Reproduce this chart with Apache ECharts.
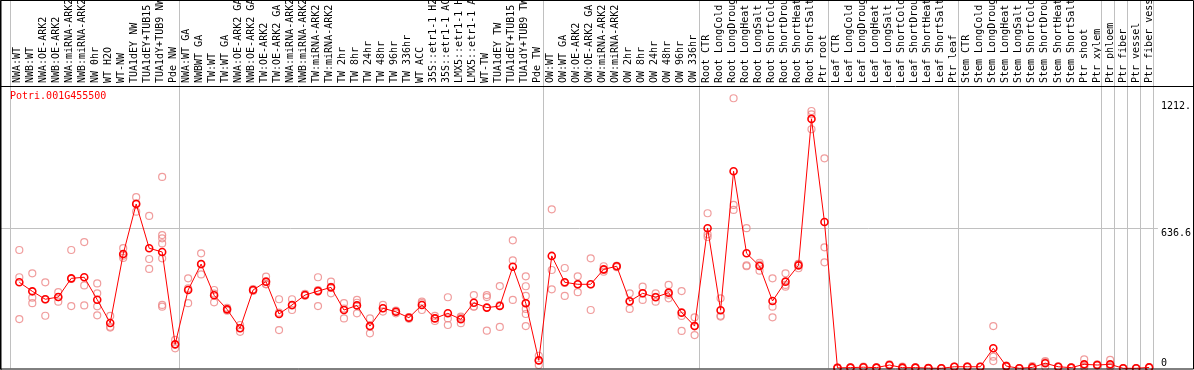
<!DOCTYPE html>
<html>
<head>
<meta charset="utf-8">
<script src="https://cdn.jsdelivr.net/npm/echarts@6/dist/echarts.min.js"></script>
<style>
html,body{margin:0;padding:0;background:#fff;}
#chart{width:1194px;height:370px;}
</style>
</head>
<body>
<div id="chart"></div>
<script>
const geneTitle = 'Potri.001G455500';

const categories = [
  'NWA:WT','NWB:WT','NWA:OE-ARK2','NWB:OE-ARK2','NWA:miRNA-ARK2','NWB:miRNA-ARK2','NW 0hr','WT H2O','WT-NW','TUA1dEY NW','TUA1dEY+TUB15','TUA1dY+TUB9 NW','Pde NW',
  'NWA:WT GA','NWBWT GA','TW:WT','TW:WT GA','NWA:OE-ARK2 GA','NWB:OE-ARK2 GA','TW:OE-ARK2','TW:OE-ARK2 GA','NWA:miRNA-ARK2','NWB:miRNA-ARK2','TW:miRNA-ARK2','TW:miRNA-ARK2',
  'TW 2hr','TW 8hr','TW 24hr','TW 48hr','TW 96hr','TW 336hr','WT ACC','35S::etr1-1 H2O','35S::etr1-1 ACC','LMX5::etr1-1 H2O','LMX5::etr1-1 ACC','WT-TW','TUA1dEY TW','TUA1dEY+TUB15','TUA1dY+TUB9 TW','Pde TW',
  'OW:WT','OW:WT GA','OW:OE-ARK2','OW:OE-ARK2 GA','OW:miRNA-ARK2','OW:miRNA-ARK2','OW 2hr','OW 8hr','OW 24hr','OW 48hr','OW 96hr','OW 336hr',
  'Root CTR','Root LongCold','Root LongDrought','Root LongHeat','Root LongSalt','Root ShortCold','Root ShortDrought','Root ShortHeat','Root ShortSalt','Ptr root',
  'Leaf CTR','Leaf LongCold','Leaf LongDrought','Leaf LongHeat','Leaf LongSalt','Leaf ShortCold','Leaf ShortDrought','Leaf ShortHeat','Leaf ShortSalt','Ptr leaf',
  'Stem CTR','Stem LongCold','Stem LongDrought','Stem LongHeat','Stem LongSalt','Stem ShortCold','Stem ShortDrought','Stem ShortHeat','Stem ShortSalt','Ptr shoot','Ptr xylem',
  'Ptr phloem','Ptr fiber','Ptr vessel','Ptr fiber vessel'
];

const meanValues = [
  391,350,314,324,409,414,312,206,520,747,546,529,109,
  356,474,332,268,182,356,394,247,288,333,351,368,
  265,286,192,273,257,230,288,227,250,223,298,276,283,462,296,36,
  511,391,382,382,450,464,305,341,323,344,253,192,
  637,264,896,523,465,306,394,468,1134,665,
  2,3,5,3,15,3,3,1,0,7,
  7,7,91,10,0,4,23,7,3,18,15,
  18,0,0,4
];

const replicateValues = [
  [538,414,224],[432,321,296],[391,313,239],[346,324,303],[538,406,283],[574,377,286],[386,341,282,241],[238,189,185],[546,512,502],[778,712,750],[693,497,452],[870,606,591,568,500,288,280],[129,91,107],
  [409,296,363],[523,427,472],[356,300,340],[275,268,262],[197,166,183],[360,352,356],[417,382,383],[314,174,253],[314,265,285],[338,330,331],[414,283,356],[394,341,370],
  [296,227,272],[311,250,298],[227,159,190],[288,258,273],[250,262,259],[225,232,233],[303,265,296],[238,215,228],[323,227,197],[235,205,229],[333,280,281],[324,171,333],[374,188,287],[582,491,311],[418,373,329,296,270,247,192],[57,15,36],
  [723,447,359],[456,329,388],[418,346,382],[500,265,381],[464,439,447],[460,466,466],[341,270,304],[371,311,341],[341,303,325],[379,318,335],[351,170,238],[232,151,193],
  [705,609,597],[318,235,239],[1228,743,720],[637,464,468],[480,444,471],[409,280,232],[432,371,379],[474,455,475],[1170,1155,1087],[955,550,482],
  [3,1,2],[4,2,3],[8,3,4],[3,2,4],[18,12,15],[8,1,1],[4,2,3],[1,1,1],[0,0,0],[8,6,7],
  [9,5,7],[8,6,7],[192,53,33],[12,9,9],[0,0,0],[10,1,1],[33,28,7],[9,6,6],[4,2,3],[41,8,5],[18,13,14],
  [38,9,7],[0,0,0],[0,0,0],[6,3,3]
];

// group separators (category index of the band boundary)
const groupBoundaries = [0,13,41,53,63,73,84,85,86,87,88];

const yTickValues = [636.6, 1212.3];
const yTickLabels = ['636.6', '1212.'];
const yZeroValue = [0];
const yZeroLabel = ['0'];

const POINT_OFFSET = 0.68;
const Y_MAX = 1674.7;
const MONO = 'DejaVu Sans Mono';

const lineData = meanValues.map((v, i) => [i + POINT_OFFSET, v]);
const repData = [];
replicateValues.forEach((arr, i) => arr.forEach(v => repData.push([i + POINT_OFFSET, v])));

const chart = echarts.init(document.getElementById('chart'), null, {renderer: 'canvas'});
chart.setOption({
  animation: false,
  backgroundColor: '#fff',
  title: {
    text: geneTitle, left: 10, top: 91, padding: 0,
    textStyle: {color: '#ff0000', fontSize: 10, fontWeight: 'normal', fontFamily: MONO}
  },
  grid: [
    {left: 10.5, right: 38.5, top: 0, height: 86},
    {left: 1, right: 34, top: 0, bottom: 1.7}
  ],
  xAxis: [
    {
      type: 'category', gridIndex: 0, data: categories, boundaryGap: true, position: 'bottom',
      axisLine: {show: false}, axisTick: {show: false}, splitLine: {show: false},
      axisLabel: {inside: true, rotate: 90, interval: 0, margin: 3, fontSize: 10, fontFamily: MONO, color: '#000'}
    },
    {
      type: 'value', gridIndex: 1, min: -0.7302, max: 88.355, show: false
    }
  ],
  yAxis: [
    {type: 'value', gridIndex: 0, show: false},
    {
      type: 'value', gridIndex: 1, min: 0, max: Y_MAX, position: 'right',
      axisLine: {show: false}, axisTick: {show: false}, splitLine: {show: false},
      axisLabel: {
        customValues: yTickValues, margin: 3, verticalAlign: 'top', align: 'left',
        fontSize: 10, fontFamily: MONO, color: '#000',
        formatter: v => yTickLabels[yTickValues.indexOf(v)] ?? String(v)
      }
    },
    {
      type: 'value', gridIndex: 1, min: 0, max: Y_MAX, position: 'right',
      axisLine: {show: false}, axisTick: {show: false}, splitLine: {show: false},
      axisLabel: {
        customValues: yZeroValue, margin: 3, verticalAlign: 'bottom', align: 'left',
        fontSize: 10, fontFamily: MONO, color: '#000',
        formatter: v => yZeroLabel[yZeroValue.indexOf(v)] ?? String(v)
      }
    }
  ],
  series: [
    {
      type: 'scatter', xAxisIndex: 1, yAxisIndex: 1, data: repData, z: 2,
      symbol: 'circle', symbolSize: 7, clip: false,
      itemStyle: {color: 'rgba(0,0,0,0)', borderColor: '#ec8585', borderWidth: 1.2},
      markLine: {
        silent: true, symbol: 'none', animation: false, z: 1,
        label: {show: false},
        lineStyle: {color: '#c0c0c0', type: 'solid', width: 1},
        data: groupBoundaries.map(b => ({xAxis: b})).concat([{yAxis: yTickValues[0]}])
      }
    },
    {
      type: 'line', xAxisIndex: 1, yAxisIndex: 1, data: lineData, z: 3,
      symbol: 'circle', symbolSize: 7, clip: false, showAllSymbol: true,
      lineStyle: {color: '#ff0000', width: 1},
      itemStyle: {color: 'rgba(0,0,0,0)', borderColor: '#ff0000', borderWidth: 1.6}
    }
  ],
  graphic: [
    {type: 'rect', z: 100, silent: true, shape: {x: 0.5, y: 0.5, width: 1193, height: 368.5}, style: {fill: null, stroke: '#000', lineWidth: 1}},
    {type: 'line', z: 100, silent: true, shape: {x1: 1, y1: 0, x2: 1, y2: 370}, style: {stroke: '#000', lineWidth: 1}},
    {type: 'line', z: 100, silent: true, shape: {x1: 0, y1: 86.5, x2: 1194, y2: 86.5}, style: {stroke: '#000', lineWidth: 1}}
  ]
});
</script>
</body>
</html>
